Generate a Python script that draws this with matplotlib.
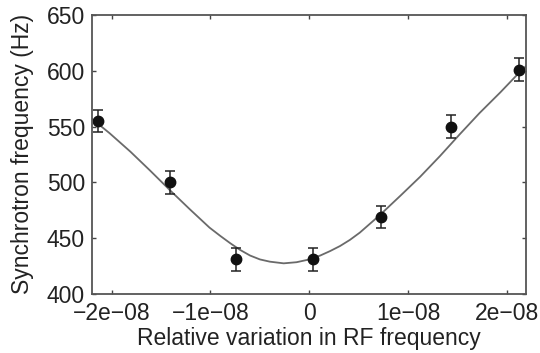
import numpy as np
import matplotlib
matplotlib.use('Agg')
import matplotlib.pyplot as plt

plt.rcParams['font.family'] = ['Liberation Sans', 'DejaVu Sans']

# measured points
rel_rf = [-2.14e-8, -1.41e-8, -0.74e-8, 0.04e-8, 0.72e-8, 1.43e-8, 2.12e-8]
f_sync = [555, 500, 431, 431, 469, 550, 601]
f_err = [10, 10, 10, 10, 10, 10, 10]

# fitted curve
fit_x = [-2.2e-8, -2.02e-8, -1.81e-8, -1.61e-8, -1.41e-8, -1.21e-8, -1.01e-8,
         -0.90e-8, -0.80e-8, -0.70e-8, -0.60e-8, -0.50e-8, -0.40e-8, -0.26e-8,
         -0.13e-8, 0.0, 0.11e-8, 0.21e-8, 0.31e-8, 0.41e-8, 0.51e-8, 0.71e-8,
         0.92e-8, 1.12e-8, 1.32e-8, 1.52e-8, 1.72e-8, 1.93e-8, 2.13e-8, 2.19e-8]
fit_y = [557, 544, 527.5, 510.5, 493, 476, 459.5,
         452, 445.5, 439.5, 434.5, 431, 429, 427.5,
         428.5, 431, 434.5, 438.5, 443, 448.5, 455, 470.5,
         488, 505, 523.5, 543, 562, 580.5, 599, 604]

xticks = [-2e-8, -1e-8, 0, 1e-8, 2e-8]
xtick_labels = ['\u22122e\u221208', '\u22121e\u221208', '0', '1e\u221208', '2e\u221208']
yticks = [400, 450, 500, 550, 600, 650]

fig = plt.figure(figsize=(5.4, 3.53), dpi=100)
ax = fig.add_axes([0.170, 0.167, 0.804, 0.791])

ax.plot(fit_x, fit_y, color='#6a6a6a', lw=1.3)
ax.errorbar(rel_rf, f_sync, yerr=f_err, fmt='o', color='#111111', ecolor='#222222',
            markersize=7.5, capsize=3.5, elinewidth=1.1, capthick=1.1)

ax.set_xlim(-2.2e-8, 2.19e-8)
ax.set_ylim(400, 650)
ax.set_xticks(xticks)
ax.set_xticklabels(xtick_labels)
ax.set_yticks(yticks)
ax.tick_params(direction='in', length=3, width=1, color='#444444',
               top=True, right=True, labelsize=16.5, labelcolor='#222222')
ax.tick_params(axis='x', pad=6)
ax.tick_params(axis='y', pad=5)
for s in ax.spines.values():
    s.set_color('#555555')
    s.set_linewidth(1.3)

ax.set_xlabel('Relative variation in RF frequency', fontsize=16.5, color='#222222', labelpad=1)
ax.set_ylabel('Synchrotron frequency (Hz)', fontsize=16.5, color='#222222', labelpad=9)

fig.savefig('out.png', dpi=100)
